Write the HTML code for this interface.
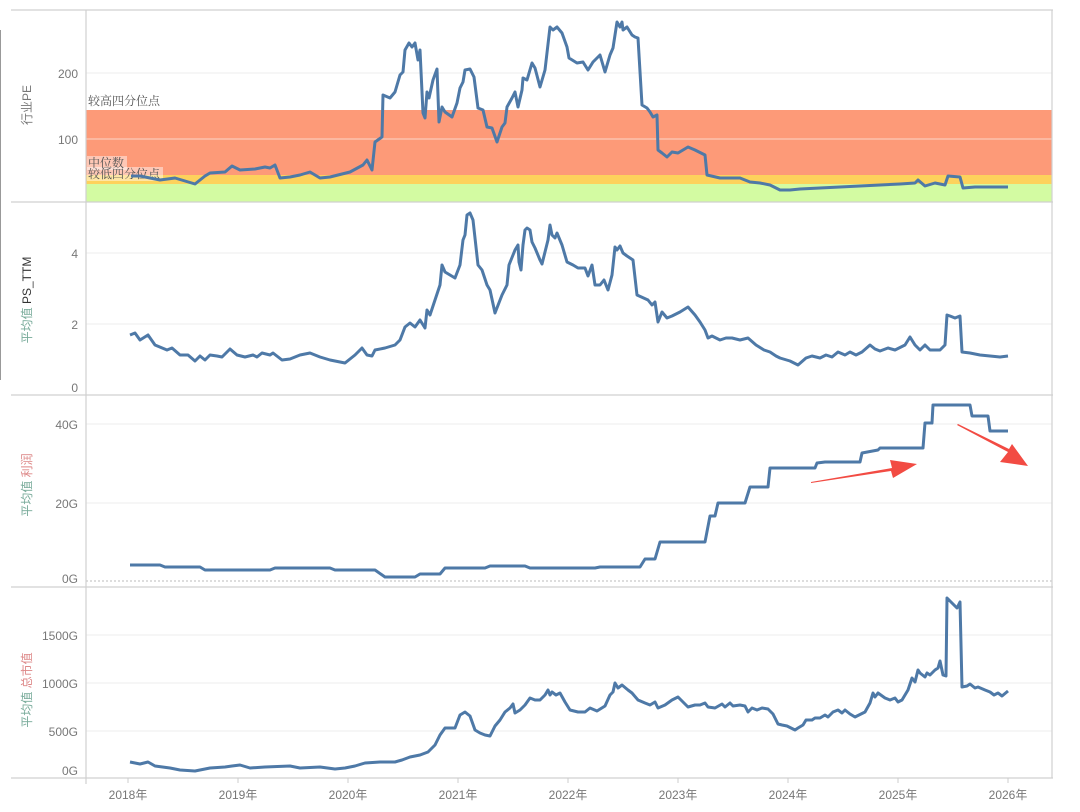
<!DOCTYPE html>
<html><head><meta charset="utf-8"><style>
html,body{margin:0;padding:0;background:#fff;}
svg{display:block;}
text{font-family:"Liberation Sans","Noto Sans CJK SC",sans-serif;}
</style></head><body>
<svg width="1080" height="812" viewBox="0 0 1080 812" xmlns="http://www.w3.org/2000/svg">
<!-- bands -->
<rect x="86" y="110" width="966" height="65" fill="#fd9a78"/>
<rect x="86" y="175" width="966" height="9" fill="#fdd25c"/>
<rect x="86" y="184" width="966" height="18" fill="#d3fba2"/>
<!-- gridlines -->
<g stroke="#eeeeee" stroke-width="1">
<line x1="86" y1="73" x2="1052" y2="73"/>
<line x1="86" y1="139" x2="1052" y2="139" stroke="#fbd6c8"/>
<line x1="86" y1="253" x2="1052" y2="253"/>
<line x1="86" y1="324" x2="1052" y2="324"/>
<line x1="86" y1="424" x2="1052" y2="424"/>
<line x1="86" y1="503" x2="1052" y2="503"/>
<line x1="86" y1="635" x2="1052" y2="635"/>
<line x1="86" y1="683" x2="1052" y2="683"/>
<line x1="86" y1="731" x2="1052" y2="731"/>
</g>
<line x1="86" y1="581" x2="1052" y2="581" stroke="#bbb" stroke-dasharray="2,2"/>
<!-- frame -->
<g stroke="#d0d0d0" stroke-width="1.2" fill="none">
<line x1="11" y1="10" x2="1053" y2="10"/>
<line x1="11" y1="202" x2="1053" y2="202"/>
<line x1="11" y1="395" x2="1053" y2="395"/>
<line x1="11" y1="587" x2="1053" y2="587"/>
<line x1="11" y1="778" x2="1053" y2="778"/>
<line x1="86" y1="10" x2="86" y2="784"/>
<line x1="1052" y1="10" x2="1052" y2="778"/>
</g>
<line x1="0.5" y1="30" x2="0.5" y2="380" stroke="#999" stroke-width="1"/>
<!-- band labels -->
<g font-family="'Noto Serif CJK SC',serif" font-size="12" fill="#555">
<rect x="87" y="156" width="40" height="14" fill="#fff" opacity="0.45"/>
<rect x="87" y="167" width="76" height="14" fill="#fff" opacity="0.45"/>
<text x="88" y="105" style="font-family:'Noto Serif CJK SC',serif">较高四分位点</text>
<text x="88" y="167" style="font-family:'Noto Serif CJK SC',serif">中位数</text>
<text x="88" y="178" style="font-family:'Noto Serif CJK SC',serif">较低四分位点</text>
</g>
<!-- y labels -->
<g font-size="12" fill="#777" text-anchor="end">
<text x="78" y="78">200</text><text x="78" y="144">100</text>
<text x="78" y="258">4</text><text x="78" y="329">2</text><text x="78" y="392">0</text>
<text x="78" y="429">40G</text><text x="78" y="508">20G</text><text x="78" y="583">0G</text>
<text x="78" y="640">1500G</text><text x="78" y="688">1000G</text><text x="78" y="736">500G</text><text x="78" y="775">0G</text>
</g>
<g font-size="12" fill="#777">
<text transform="translate(31,105) rotate(-90)" text-anchor="middle">行业PE</text>
<text transform="translate(31,300) rotate(-90)" text-anchor="middle"><tspan fill="#7a9">平均值 </tspan><tspan fill="#333">PS_TTM</tspan></text>
<text transform="translate(31,485) rotate(-90)" text-anchor="middle"><tspan fill="#7a9">平均值 </tspan><tspan fill="#d88">利润</tspan></text>
<text transform="translate(31,690) rotate(-90)" text-anchor="middle"><tspan fill="#7a9">平均值 </tspan><tspan fill="#d88">总市值</tspan></text>
</g>
<!-- x ticks -->
<g stroke="#ccc"><line x1="128" y1="778" x2="128" y2="783"/><line x1="238" y1="778" x2="238" y2="783"/><line x1="348" y1="778" x2="348" y2="783"/><line x1="458" y1="778" x2="458" y2="783"/><line x1="568" y1="778" x2="568" y2="783"/><line x1="678" y1="778" x2="678" y2="783"/><line x1="788" y1="778" x2="788" y2="783"/><line x1="898" y1="778" x2="898" y2="783"/><line x1="1008" y1="778" x2="1008" y2="783"/></g>
<g font-size="12" fill="#777" text-anchor="middle">
<text x="128" y="799">2018年</text><text x="238" y="799">2019年</text><text x="348" y="799">2020年</text><text x="458" y="799">2021年</text><text x="568" y="799">2022年</text><text x="678" y="799">2023年</text><text x="788" y="799">2024年</text><text x="898" y="799">2025年</text><text x="1008" y="799">2026年</text>
</g>
<g fill="none" stroke="#4e79a7" stroke-width="3" stroke-linejoin="round">
<polyline points="131,176 140,176 160,180 175,178 195,184 205,176 210,173 225,172 232,166 240,170 255,169 265,167 270,168 275,165 280,178 290,177 300,175 310,172 320,178 330,177 350,172 363,165 367,160 372,170 375,142 382,137 383,95 390,98 395,92 400,75 403,72 405,50 409,43 412,47 415,43 418,60 420,50 423,113 425,118 427,92 429,98 433,80 437,69 439,122 442,107 445,112 452,117 457,103 460,88 463,82 465,70 470,69 474,77 478,108 483,110 487,127 492,128 497,142 502,127 505,123 507,107 512,98 515,92 518,107 522,90 523,78 527,80 532,63 535,68 540,87 545,70 550,27 553,30 557,27 562,33 567,47 569,58 577,63 583,62 588,70 593,62 600,55 605,72 610,55 613,48 617,22 620,27 622,22 623,30 627,27 632,35 635,37 638,38 642,105 647,108 650,112 653,117 657,115 658,150 662,153 667,157 672,152 678,153 683,150 688,147 695,150 705,155 707,175 720,178 740,178 750,182 760,183 770,185 780,190 790,190 800,189 820,188 840,187 860,186 880,185 900,184 915,183 918,180 925,186 935,183 945,185 948,176 960,177 963,188 975,187 990,187 1008,187"/>
<polyline points="130,335 135,333 140,340 148,335 155,345 167,350 172,348 180,355 188,355 195,361 200,356 205,360 210,355 217,356 222,357 230,349 237,355 245,357 253,355 257,357 262,353 270,355 273,353 282,360 290,359 300,355 310,353 320,357 330,360 345,363 355,355 362,348 367,355 372,356 375,350 385,348 395,345 400,340 405,327 410,323 415,327 420,320 425,328 427,310 430,315 435,300 440,285 442,265 445,272 450,275 455,278 460,265 463,240 465,235 467,215 470,213 473,220 478,265 482,270 487,285 490,290 495,313 502,295 507,285 509,265 513,255 515,250 518,245 519,262 521,270 523,245 525,230 527,228 530,230 532,242 535,248 540,260 542,264 548,240 550,225 552,235 555,238 557,233 562,245 567,262 573,265 578,268 585,268 588,276 592,265 595,285 600,285 604,280 608,290 612,275 615,247 617,250 620,246 623,253 627,256 630,258 633,260 637,295 648,300 652,305 655,302 658,322 662,312 667,318 672,316 680,312 688,307 695,315 700,322 705,330 708,338 712,336 720,340 726,338 732,338 740,340 748,338 756,345 764,350 770,352 776,356 780,358 790,361 798,365 806,358 812,356 820,358 826,355 832,357 838,352 845,355 850,352 856,355 862,352 870,345 875,349 880,351 888,348 895,350 905,345 910,337 915,345 920,350 925,345 930,350 940,350 945,345 947,315 950,316 955,318 960,316 962,352 970,353 980,355 990,356 1000,357 1008,356"/>
<polyline points="130,565 160,565 165,567 200,567 205,570 270,570 275,568 330,568 335,570 375,570 385,577 415,577 420,574 440,574 445,568 485,568 490,566 525,566 530,568 595,568 600,567 640,567 645,559 655,559 660,542 705,542 710,516 715,516 718,503 745,503 750,487 768,487 770,468 815,468 817,463 825,462 860,462 862,453 878,450 880,448 923,448 925,423 932,423 933,405 970,405 972,416 988,416 990,431 1008,431"/>
<polyline points="130,762 140,764 148,762 155,766 170,768 180,770 195,771 210,768 225,767 232,766 240,765 250,768 265,767 290,766 300,768 320,767 335,769 345,768 355,766 365,763 380,762 395,762 402,760 410,757 420,755 428,752 435,745 440,735 445,728 455,728 460,715 465,712 470,716 475,730 480,733 485,735 490,736 495,726 500,720 505,712 510,708 513,704 515,713 520,710 525,705 530,698 535,700 540,700 545,695 548,690 550,695 552,692 556,695 560,693 565,702 570,710 578,712 585,712 590,708 597,711 605,706 610,695 613,692 615,683 618,688 622,685 628,690 632,693 638,700 645,703 650,705 655,702 658,708 665,705 672,700 678,697 683,702 688,707 695,705 700,705 705,703 708,707 715,708 722,704 725,707 730,703 733,706 740,705 745,706 748,712 752,708 757,710 762,708 768,709 773,714 778,724 782,725 787,726 795,730 798,728 803,725 806,720 812,720 815,718 820,718 825,715 828,717 833,712 838,710 842,713 845,710 850,714 855,717 865,712 870,703 873,693 875,697 878,693 885,698 890,700 895,698 898,702 902,700 908,690 912,678 915,682 918,670 920,673 925,677 927,673 930,675 935,670 938,668 940,661 943,675 946,676 947,598 952,603 957,608 960,602 962,687 967,686 970,684 975,688 978,687 985,690 990,692 994,695 998,693 1002,696 1008,691"/>
</g>
<!-- arrows -->
<polygon points="811,482 892,468 890,460 917,464 893,478 891,471 811,483" fill="#f24b43"/>
<polygon points="957,425 1008,452 1000,462 1028,466 1012,444 1009,449 958,424" fill="#f24b43"/>
</svg>
</body></html>
